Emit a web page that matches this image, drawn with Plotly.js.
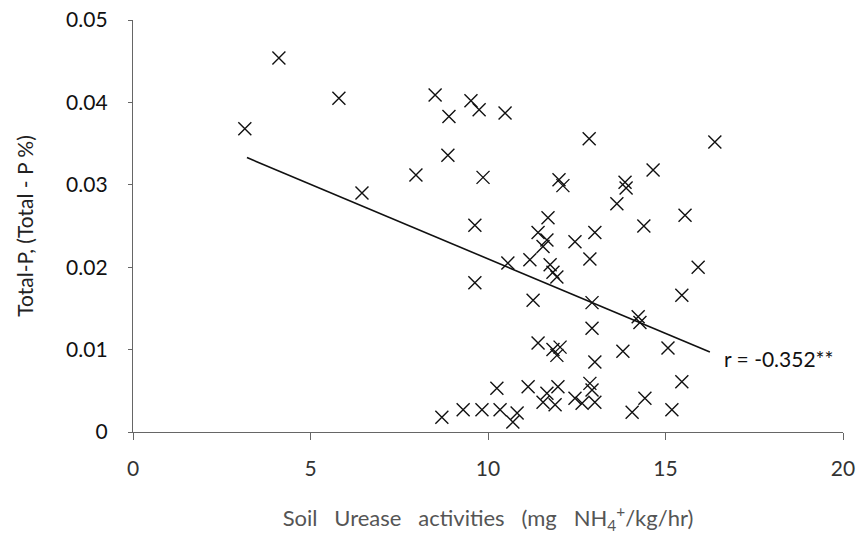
<!DOCTYPE html>
<html>
<head>
<meta charset="utf-8">
<script src="https://cdn.plot.ly/plotly-3.0.1.min.js"></script>
<style>html,body{margin:0;padding:0;background:#fff;}#chart{width:861px;height:543px;}</style>
</head>
<body>
<div id="chart"></div>
<script>
// Soil urease activity (mg NH4+/kg/hr) vs Total-P (%)
var ureaseX = [3.15, 4.11, 5.80, 6.45, 7.97, 8.51, 8.90, 9.52, 9.75, 10.48,
  8.87, 9.86, 12.00, 12.11, 12.85, 16.39, 13.86, 13.89, 14.65, 13.63,
  9.63, 11.69, 11.41, 11.66, 11.55, 10.56, 11.18, 11.75, 11.83, 11.94,
  9.63, 11.27, 15.55, 14.39, 13.01, 12.45, 12.87, 15.92, 15.46, 12.93,
  14.23, 11.41, 11.83, 11.94, 10.25, 11.13, 11.66, 11.97, 11.55, 11.89,
  8.70, 9.30, 9.83, 10.34, 10.82, 10.70, 12.93, 14.28, 12.03, 13.80,
  15.07, 13.01, 15.46, 12.87, 12.93, 12.45, 12.65, 13.01, 14.42, 14.06, 15.18];
var totalP = [0.0368, 0.0454, 0.0405, 0.0290, 0.0312, 0.0409, 0.0383, 0.0402, 0.0391, 0.0387,
  0.0336, 0.0309, 0.0306, 0.0299, 0.0356, 0.0352, 0.0303, 0.0296, 0.0318, 0.0277,
  0.0251, 0.0260, 0.0242, 0.0233, 0.0225, 0.0205, 0.0209, 0.0203, 0.0194, 0.0188,
  0.0181, 0.0160, 0.0263, 0.0250, 0.0242, 0.0231, 0.0210, 0.0200, 0.0166, 0.0157,
  0.0140, 0.0108, 0.0100, 0.0093, 0.0053, 0.0055, 0.0047, 0.0055, 0.0036, 0.0033,
  0.0018, 0.0027, 0.0027, 0.0027, 0.0023, 0.0012, 0.0126, 0.0133, 0.0103, 0.0098,
  0.0102, 0.0085, 0.0061, 0.0059, 0.0051, 0.0041, 0.0035, 0.0036, 0.0041, 0.0024, 0.0027];
// Linear trend line (end points)
var trendX = [3.21, 16.25];
var trendY = [0.0333, 0.0097];
var xTicks = [0, 5, 10, 15, 20];
var yTicks = [0, 0.01, 0.02, 0.03, 0.04, 0.05];
var yTickLabels = ['0', '0.01', '0.02', '0.03', '0.04', '0.05'];
var rLabel = 'r = -0.352**';

var fontMain = 'Lato, "Open Sans", sans-serif';

var traces = [
  {
    x: ureaseX, y: totalP, type: 'scatter', mode: 'markers',
    marker: {symbol: 'x-thin', size: 13, color: '#111', line: {color: '#111', width: 1.4}},
    hoverinfo: 'x+y', showlegend: false
  },
  {
    x: trendX, y: trendY, type: 'scatter', mode: 'lines',
    line: {color: '#111', width: 1.6}, showlegend: false, hoverinfo: 'skip'
  }
];

var layout = {
  width: 861, height: 543,
  margin: {l: 133, r: 18, t: 20, b: 111},
  paper_bgcolor: '#fff', plot_bgcolor: '#fff',
  showlegend: false,
  xaxis: {
    range: [0, 20], tickvals: xTicks, ticktext: xTicks.map(String),
    showgrid: false, zeroline: false,
    showline: true, linecolor: '#666', linewidth: 1.2,
    ticks: 'outside', ticklen: 7, tickcolor: '#666',
    ticklabelstandoff: 11,
    tickfont: {family: fontMain, size: 21, color: '#333'},
    title: {text: 'Soil   Urease   activities   (mg   NH<sub>4</sub><sup>+</sup>/kg/hr)', standoff: 31,
      font: {family: fontMain, size: 22, color: '#555'}},
    automargin: false, fixedrange: true
  },
  yaxis: {
    range: [0, 0.05], tickvals: yTicks, ticktext: yTickLabels,
    showgrid: false, zeroline: false,
    showline: true, linecolor: '#666', linewidth: 1.2,
    ticks: 'outside', ticklen: 4, tickcolor: '#666',
    ticklabelstandoff: 16,
    tickfont: {family: fontMain, size: 21, color: '#111'},
    title: {text: 'Total-P, (Total - P %)', standoff: 26,
      font: {family: fontMain, size: 21, color: '#222'}},
    automargin: false, fixedrange: true
  },
  annotations: [{
    x: 16.25, y: 0.0097, xref: 'x', yref: 'y', text: rLabel,
    showarrow: false, xanchor: 'left', yanchor: 'middle', xshift: 12, yshift: -6,
    font: {family: fontMain, size: 21, color: '#111'}
  }]
};

Plotly.newPlot('chart', traces, layout, {displayModeBar: false, staticPlot: true});
</script>
</body>
</html>
